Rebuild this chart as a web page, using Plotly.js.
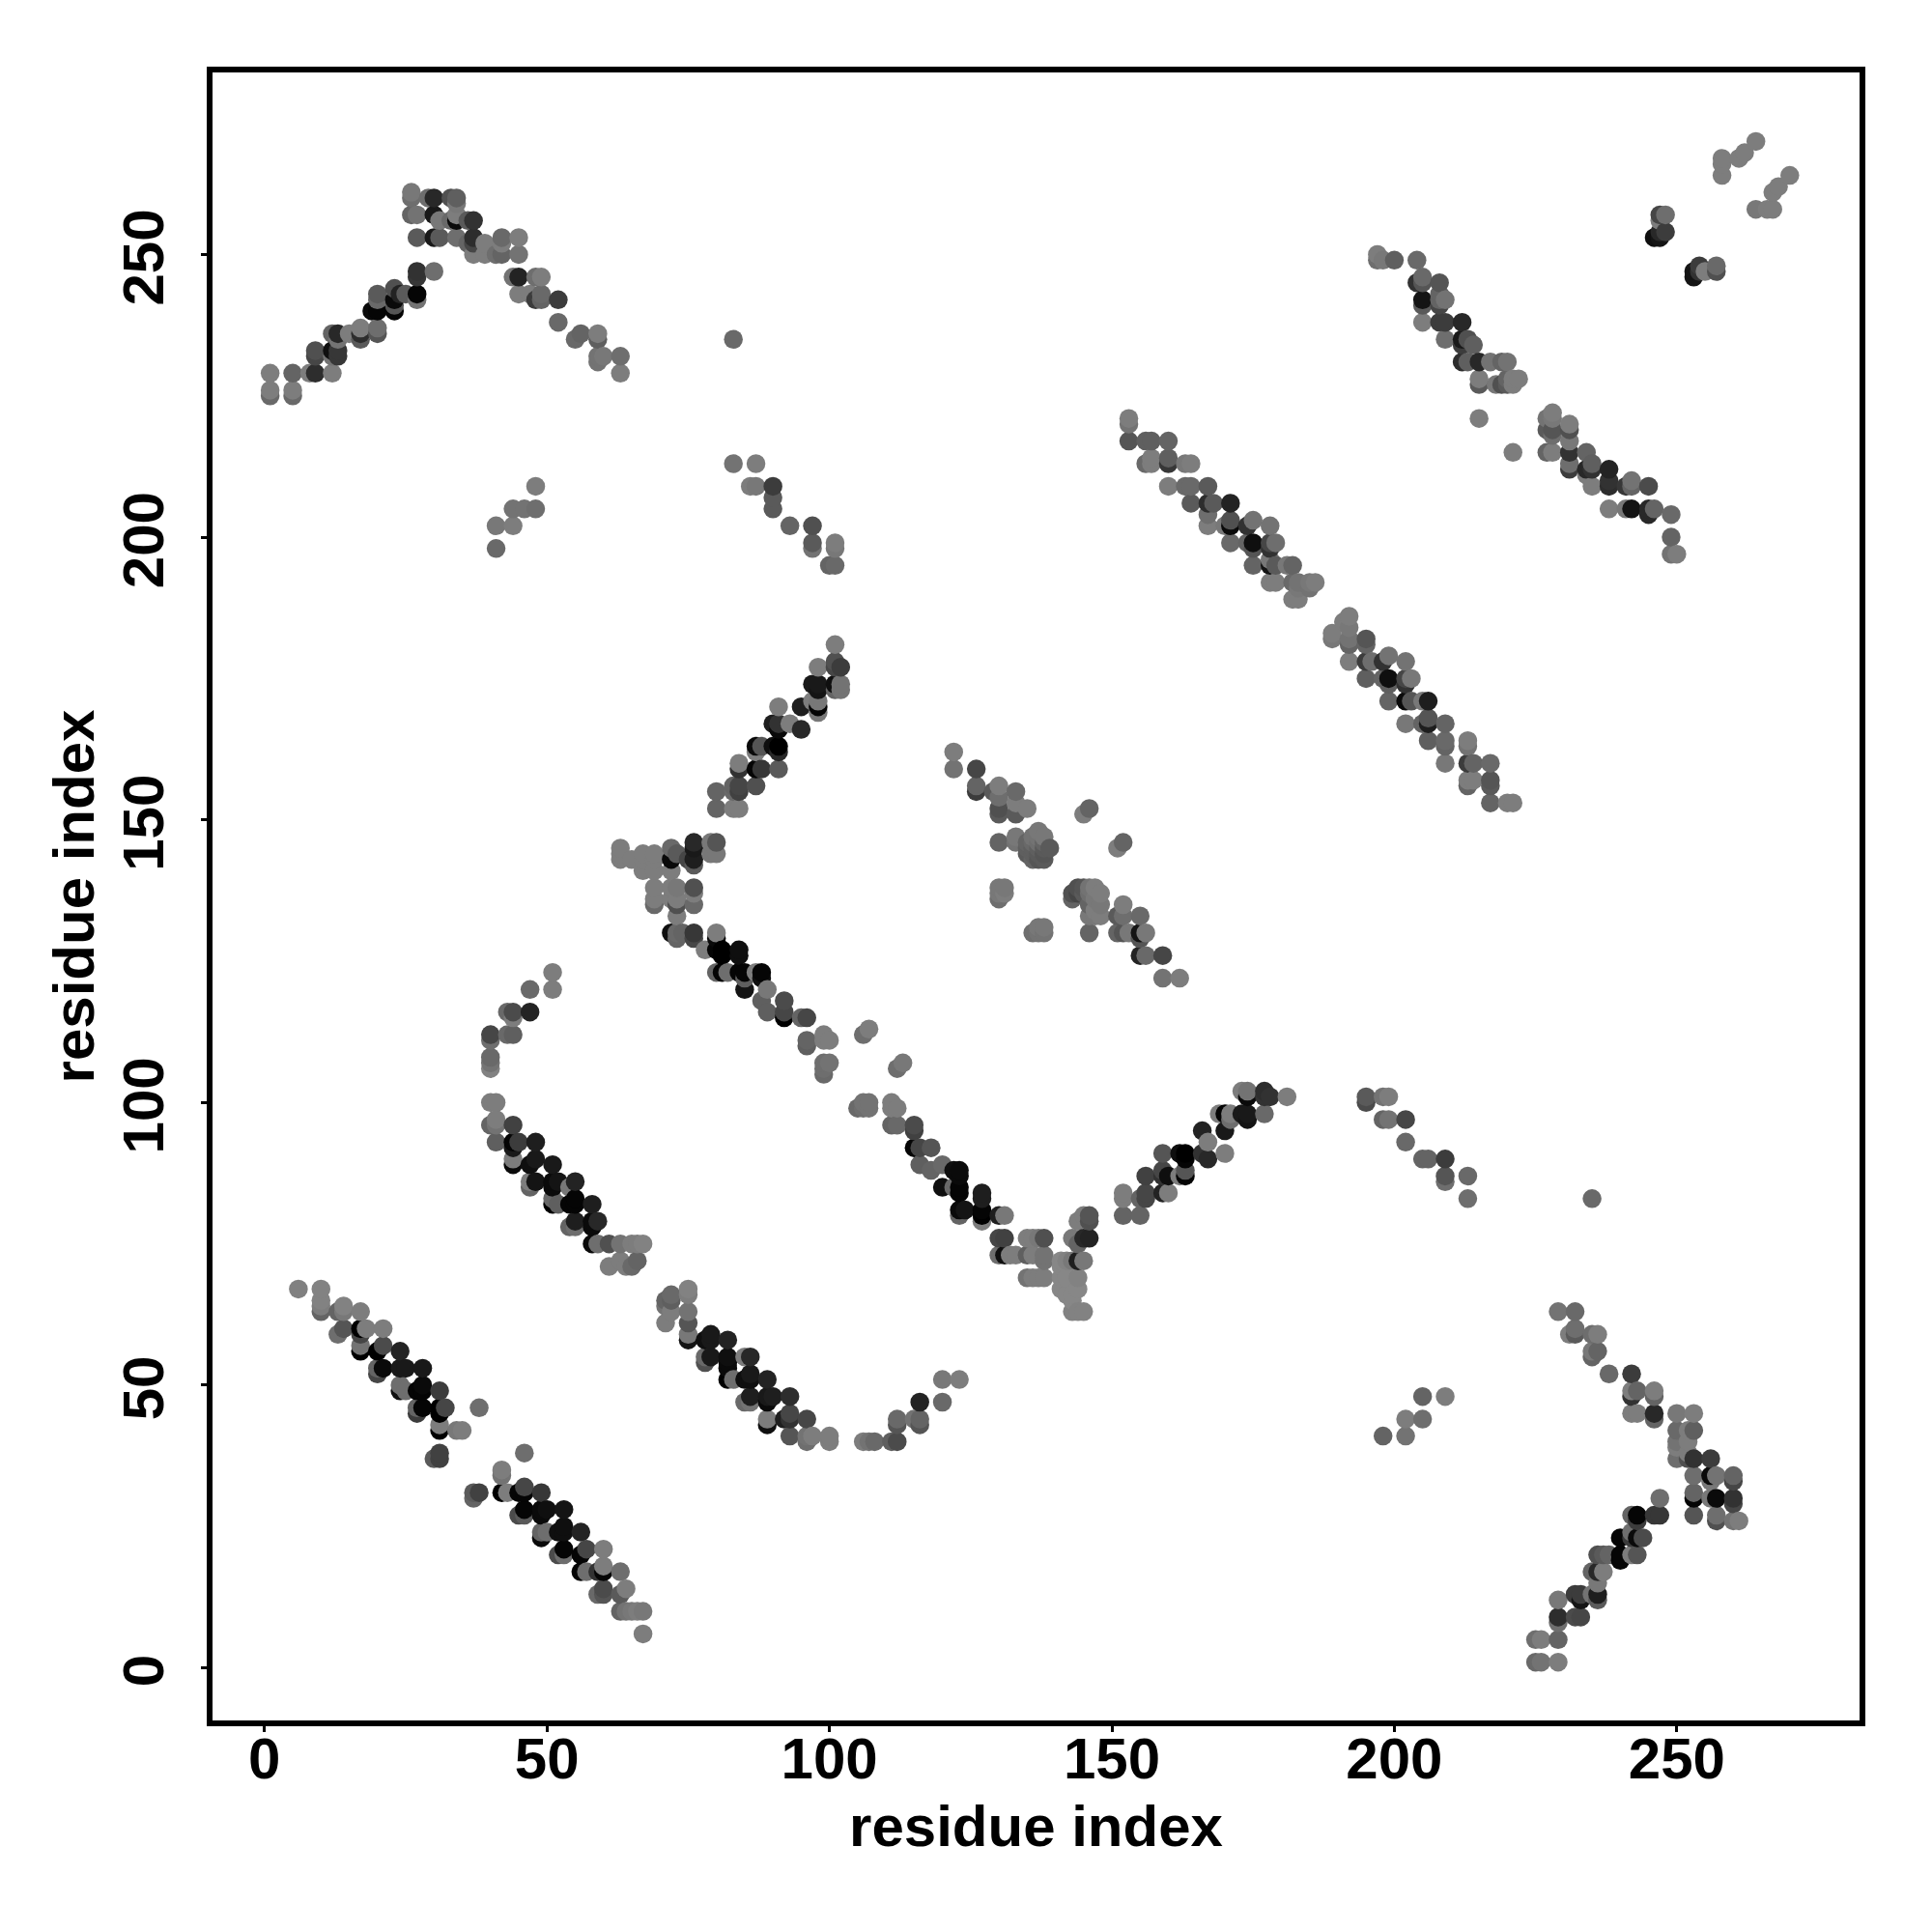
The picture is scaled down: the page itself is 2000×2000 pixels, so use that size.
<!DOCTYPE html>
<html><head><meta charset="utf-8">
<script src="https://cdn.plot.ly/plotly-3.0.1.min.js"></script>
<style>html,body{margin:0;padding:0;background:#fff}</style></head>
<body><div id="chart"></div>
<script>
// each contact: [residue i, residue j, grey level]
const bandLowerLeft = [[6,67,128],[10,67,130],[10,65,130],[10,64,125],[10,63,100],[13,63,100],[14,64,130],[14,63,120],[17,63,125],[13,59,110],[14,60,85],[17,60,0],[18,60,125],[21,60,125],[17,59,70],[17,57,115],[17,56,0],[21,57,75],[20,56,0],[24,56,35],[20,53,100],[20,52,70],[21,53,10],[24,53,25],[25,53,25],[28,53,25],[24,50,110],[24,49,15],[25,49,110],[27,49,5],[28,50,10],[28,49,5],[31,49,60],[27,46,100],[27,45,60],[28,46,5],[31,46,0],[32,46,70],[31,45,0],[38,46,110],[31,43,125],[31,42,0],[34,42,120],[35,42,125],[30,37,90],[31,38,65],[31,37,65],[46,38,110],[37,31,90],[37,30,100],[38,31,65],[42,35,125],[42,34,115],[42,31,0],[43,31,125],[46,32,70],[45,31,5],[46,31,5],[49,31,55],[46,28,5],[45,27,75],[46,27,90],[49,28,10],[50,28,15],[49,27,10],[53,28,20],[49,24,100],[49,23,10],[50,24,110],[52,24,15],[53,25,15],[53,24,15],[56,24,35],[52,20,75],[53,21,5],[53,20,110],[56,20,5],[57,21,70],[60,21,125],[56,17,5],[57,17,110],[59,17,50],[60,18,125],[60,17,5],[63,17,110],[59,13,105],[60,14,75],[60,13,85],[63,13,90],[64,14,125],[63,10,100],[64,10,115],[65,10,120],[66,10,125],[67,10,120],[67,6,125]];
const bandMidLeft = [[51,123,125],[51,120,125],[47,120,105],[47,116,35],[43,116,105],[44,116,75],[44,115,125],[40,112,70],[40,111,110],[43,112,105],[44,112,95],[40,108,105],[40,107,115],[40,106,130],[40,100,125],[41,100,125],[40,96,100],[41,97,125],[41,96,115],[44,96,65],[41,93,95],[44,93,5],[44,92,25],[45,93,60],[48,93,30],[44,90,125],[44,89,10],[47,89,15],[48,90,25],[51,89,25],[47,86,125],[47,85,100],[48,86,20],[51,86,10],[52,86,20],[51,85,10],[54,85,120],[55,86,35],[51,83,105],[51,82,0],[52,82,95],[54,82,5],[55,83,5],[55,82,5],[58,82,30],[54,78,100],[55,79,30],[55,78,110],[58,79,10],[59,79,40],[58,78,10],[58,75,10],[59,75,110],[61,75,80],[63,75,115],[65,75,125],[66,75,125],[67,75,130],[61,71,125],[63,72,125],[64,71,125],[65,71,105],[66,72,100]];
const bandLowerMid = [[71,61,125],[71,64,115],[71,65,100],[72,66,105],[72,65,95],[72,63,125],[75,67,130],[75,66,125],[75,63,115],[75,61,85],[75,59,120],[75,58,20],[78,58,15],[79,59,25],[79,58,25],[82,58,35],[78,55,105],[78,54,80],[79,55,25],[82,55,15],[82,54,10],[82,53,10],[85,55,125],[86,55,40],[82,51,0],[83,51,110],[85,51,15],[86,52,25],[86,51,15],[89,51,35],[85,47,105],[86,48,30],[86,47,115],[89,48,25],[89,47,10],[90,48,30],[93,48,45],[89,44,125],[89,43,15],[92,44,30],[93,45,70],[93,44,50],[96,44,70],[93,41,85],[96,41,115],[96,40,110],[97,41,125],[100,41,125],[100,40,125],[106,40,125],[107,40,115],[108,40,105],[111,40,95],[112,40,75],[112,44,105],[112,43,85],[115,44,115],[116,44,100],[116,43,85],[116,47,35],[120,47,105],[120,51,120],[123,51,125]];
const bandCentreDown = [[105,99,105],[106,100,115],[107,100,115],[106,99,110],[107,99,115],[111,100,125],[112,99,125],[111,99,125],[111,96,100],[112,96,105],[115,96,75],[115,95,65],[115,92,5],[116,92,70],[118,92,85],[116,89,95],[118,88,100],[120,89,105],[122,88,15],[123,88,10],[123,87,10],[120,85,15],[122,85,105],[123,85,5],[123,84,5],[127,84,30],[127,83,30],[123,81,10],[124,81,20],[123,80,100],[127,81,5],[127,80,0],[127,79,125],[130,80,30],[131,80,120],[131,76,65],[130,76,70],[130,73,110],[131,73,15],[132,73,125],[133,73,125],[135,76,125],[136,76,125],[137,76,120],[138,76,80],[135,73,95],[136,73,125],[138,73,115],[138,72,115],[135,69,115],[136,69,125],[137,69,125],[138,69,125],[141,72,135],[142,72,130],[143,72,120],[144,72,30],[145,72,120],[141,71,135],[141,69,135],[142,69,135],[144,69,130],[141,67,135],[144,67,135],[142,66,135],[143,66,135],[143,65,135],[143,63,130],[144,63,130],[145,63,130],[143,76,120],[144,75,100],[145,76,40],[146,76,35],[144,79,125],[145,80,125],[146,80,85],[146,79,80]];
const bandCentreUp = [[152,80,100],[155,80,100],[152,84,125],[152,83,125],[155,83,100],[156,84,70],[156,83,70],[156,87,65],[159,88,70],[159,87,50],[159,91,85],[160,87,15],[160,84,125],[159,84,35],[163,87,5],[163,88,85],[162,87,125],[162,91,15],[163,91,0],[163,90,5],[166,91,50],[167,90,40],[167,93,125],[166,95,35],[170,91,125],[170,95,25],[169,98,125],[170,98,5],[171,98,125],[171,97,110],[174,98,25],[174,97,20],[173,98,25],[177,98,105],[173,102,125],[174,102,115],[174,101,10],[177,102,45],[178,101,50],[177,101,50],[181,101,125]];
const bandUpperMid = [[101,181,125],[98,177,125],[101,178,80],[101,177,70],[102,177,60],[98,174,25],[97,174,25],[98,173,20],[101,174,15],[102,174,115],[101,173,100],[102,173,115],[91,170,125],[95,170,30],[97,171,125],[98,171,120],[98,170,5],[98,169,120],[90,167,30],[91,167,50],[91,166,10],[93,167,125],[95,166,40],[87,163,10],[88,163,85],[87,162,125],[90,163,15],[91,163,0],[91,162,40],[84,160,125],[84,159,50],[87,159,5],[88,159,55],[91,159,90],[80,155,100],[83,156,100],[84,156,70],[84,155,65],[83,155,105],[87,156,80],[80,152,100],[83,152,125],[84,152,125]];
const bandLeftCluster = [[63,145,125],[63,144,125],[63,143,125],[65,143,125],[67,144,125],[67,143,125],[67,141,125],[69,144,125],[69,143,125],[69,141,125],[72,145,105],[72,143,10],[73,144,90],[72,141,125],[75,143,70],[76,146,40],[76,145,25],[76,143,30],[76,142,90],[79,146,120],[80,146,85],[79,144,120],[80,144,120],[69,138,125],[69,136,125],[69,135,105],[72,138,125],[73,138,120],[72,136,125],[73,136,125],[73,135,80],[76,138,80],[76,137,125],[76,135,105],[73,133,125],[72,130,15],[73,130,105],[74,130,100],[73,129,100],[76,130,55],[76,129,70],[80,130,125],[80,129,10],[78,127,125],[80,127,5],[81,127,0],[81,126,0],[84,127,15],[84,126,15],[80,123,100],[81,123,5],[82,123,110],[84,123,5],[85,123,5],[85,122,95],[85,120,20],[87,123,125],[88,123,5],[88,122,15],[89,120,120],[88,118,95],[89,116,95],[92,118,75],[92,116,70],[92,115,0],[95,115,100],[96,115,70],[96,111,100],[96,110,95],[99,112,125],[100,111,125],[99,111,125],[99,107,110],[100,107,115],[99,106,110],[99,105,105],[106,112,110],[107,113,125],[112,106,110],[113,107,120]];
const bandRightCentre = [[122,162,125],[122,159,115],[126,159,70],[126,156,100],[126,155,60],[129,155,90],[130,156,125],[130,154,110],[133,155,105],[133,153,125],[130,152,80],[130,151,90],[133,151,90],[135,152,125],[130,146,100],[133,147,120],[133,146,115],[135,146,100],[135,145,95],[135,144,90],[136,147,115],[136,146,105],[136,145,95],[136,144,95],[136,143,100],[137,148,120],[137,147,115],[137,146,110],[137,145,95],[137,144,90],[137,143,85],[138,147,120],[138,146,100],[138,145,90],[138,144,85],[138,143,90],[139,145,90],[146,152,100],[145,151,125],[152,146,100],[151,145,125],[130,137,120],[130,136,110],[130,138,120],[131,138,120],[131,137,125],[136,130,110],[137,131,120],[138,131,120],[138,130,115],[137,130,115],[143,137,80],[143,136,100],[144,138,80],[144,137,70],[145,138,85],[145,137,90],[146,138,115],[146,137,110],[146,135,100],[147,138,125],[147,136,120],[147,134,125],[148,137,125],[148,135,120],[148,133,125],[146,133,120],[147,133,120],[146,130,100],[152,135,125],[151,133,90],[152,133,110],[155,133,105],[151,130,100],[152,130,85],[153,130,120],[155,129,85],[155,130,20],[156,130,120],[155,126,35],[156,126,105],[159,126,70],[159,122,115],[162,122,125]];
const bandUpperLeft = [[1,229,125],[1,226,125],[1,225,105],[5,229,100],[5,226,125],[5,225,105],[8,229,125],[9,229,45],[12,229,125],[9,233,80],[9,232,70],[12,233,15],[13,233,55],[13,232,55],[12,232,115],[12,236,100],[13,236,40],[13,235,115],[15,236,125],[17,235,90],[17,236,45],[17,237,125],[20,237,110],[20,236,85],[20,243,90],[20,242,105],[19,240,10],[20,240,5],[23,240,5],[23,244,80],[23,242,10],[23,241,85],[24,243,35],[25,243,90],[27,243,5],[27,242,115],[27,247,50],[27,246,55],[30,247,110],[26,261,120],[26,260,110],[29,260,110],[30,260,40],[26,257,100],[27,257,115],[27,253,90],[30,257,25],[30,253,25],[31,253,90],[31,256,120],[33,260,80],[34,260,95],[34,259,120],[33,256,105],[34,257,125],[34,256,10],[36,256,90],[37,256,50],[34,253,110],[36,252,100],[37,253,45],[37,252,70],[37,250,125],[39,252,125],[39,250,125],[41,250,110],[42,250,100],[42,253,105],[42,252,125],[45,253,125],[45,250,115],[44,246,115],[45,246,35],[48,246,110],[49,246,125],[45,243,125],[48,242,60],[47,243,125],[49,243,105],[49,242,100],[52,242,60],[52,238,105],[55,235,105],[56,236,100],[59,236,125],[59,235,95],[59,232,115],[60,232,120],[59,231,115],[63,232,110],[63,229,125]];
const bandIsolated = [[41,202,120],[41,198,105],[44,202,125],[44,205,115],[46,205,115],[48,205,110],[48,209,125],[83,235,105],[83,213,115],[86,209,125],[87,209,120],[87,213,125],[90,209,60],[90,207,90],[90,205,90],[93,202,100],[97,202,80],[97,199,90],[97,198,115],[101,199,125],[101,198,120],[100,195,100],[101,195,105],[198,41,100],[202,41,115],[202,44,125],[205,44,110],[205,48,100],[209,48,125],[195,101,90],[195,100,75],[198,101,115],[199,101,125],[198,97,100],[199,97,115],[202,97,70],[202,93,105],[205,90,100],[206,90,100],[209,90,60],[209,87,85],[209,86,110],[213,87,105],[213,83,110],[235,83,105]];
const bandDiagonalA = [[153,221,125],[153,220,115],[153,217,85],[156,217,95],[157,217,95],[160,217,100],[156,213,105],[157,214,125],[157,213,125],[160,214,95],[160,213,55],[163,213,120],[164,213,125],[160,209,125],[163,209,105],[164,209,105],[167,209,90],[164,206,90],[167,206,45],[168,206,90],[171,206,35],[167,204,110],[167,202,125],[170,202,120],[171,203,80],[171,202,10],[174,202,50],[175,203,115],[171,199,105],[174,199,100],[175,199,15],[175,198,85],[178,202,115],[178,199,70],[179,199,110],[178,198,50],[175,195,100],[178,195,20],[179,195,90],[178,196,120],[181,195,120],[182,195,100],[178,192,125],[179,192,125],[182,192,105],[183,192,115],[185,192,120],[186,192,125],[183,191,120],[185,191,115],[182,189,125],[183,189,125]];
const bandDiagonalB = [[192,186,125],[191,185,125],[189,183,125],[189,182,120],[192,184,120],[192,182,115],[192,181,100],[195,182,85],[195,181,100],[192,178,125],[195,178,60],[196,178,110],[198,178,50],[199,179,115],[202,178,115],[195,175,95],[198,175,100],[199,175,15],[199,174,95],[202,175,70],[203,175,120],[202,174,50],[199,171,100],[202,171,10],[203,171,85],[205,171,120],[206,171,30],[202,167,120],[205,167,100],[206,168,85],[206,167,30],[209,167,100],[206,164,95],[209,164,105],[209,163,100],[209,160,120],[213,164,125],[213,163,115],[213,160,60],[214,160,100],[217,160,105],[213,157,125],[214,157,125],[213,156,100],[217,157,85],[217,156,90],[217,153,100],[220,153,125],[221,153,125]];
const bandUpperRight = [[197,250,125],[197,249,110],[198,249,120],[200,249,95],[204,249,105],[204,245,50],[205,246,105],[205,245,85],[208,245,85],[205,242,20],[205,241,90],[208,243,100],[208,242,100],[209,242,115],[208,241,70],[205,238,125],[208,238,60],[209,238,60],[212,238,40],[209,235,110],[212,235,25],[212,234,60],[213,235,80],[214,234,95],[212,231,45],[213,231,95],[215,231,40],[217,231,115],[219,231,100],[220,231,115],[215,228,125],[215,227,90],[218,227,120],[219,227,80],[220,228,100],[220,227,90],[221,228,125],[222,228,125],[221,227,125],[215,221,125],[221,215,125],[228,222,125],[227,221,115],[228,221,120],[227,219,90],[228,219,85],[228,218,110],[231,220,125],[231,219,80],[227,215,100],[228,215,125],[231,217,120],[231,215,50],[231,213,110],[231,212,60],[234,215,100],[235,213,95],[234,212,40],[235,212,50],[234,211,125],[238,212,35],[235,209,125],[238,210,50],[238,209,45],[241,209,55],[242,210,115],[242,209,100],[245,209,75],[238,205,125],[241,205,120],[242,205,20],[245,205,40],[246,205,100],[245,204,40],[249,204,105],[249,200,100],[249,197,115],[250,197,125],[247,257,70],[248,257,110],[247,256,125],[247,254,40],[248,254,60],[246,253,15],[247,253,20],[253,247,20],[253,246,20],[254,248,60],[254,247,50],[255,247,125],[257,248,105],[257,247,80],[258,267,125],[258,266,125],[258,264,125],[261,267,125],[262,268,125],[264,270,125],[264,258,120],[266,258,125],[267,258,125],[267,261,125],[268,262,125],[270,264,125]];
const bandLowerRight = [[229,63,115],[232,63,105],[231,59,125],[232,60,110],[232,59,90],[235,59,110],[236,59,125],[235,56,120],[236,56,100],[235,55,100],[238,52,105],[242,52,60],[242,49,125],[243,49,100],[242,48,50],[242,45,125],[243,45,125],[246,49,125],[246,48,100],[246,45,40],[246,44,100],[250,45,120],[253,45,125],[250,42,105],[253,42,95],[252,42,125],[250,40,115],[252,40,125],[250,39,125],[250,37,110],[252,38,125],[252,37,80],[253,37,50],[256,37,60],[253,34,110],[256,34,10],[257,34,115],[260,34,100],[256,33,120],[260,33,70],[253,31,100],[253,30,5],[257,30,10],[256,30,120],[260,30,50],[260,29,70],[253,27,85],[257,27,110],[257,26,80],[260,26,115],[261,26,125],[247,30,110],[246,27,55],[247,27,55],[243,27,5],[242,27,100],[243,26,60],[242,24,110],[240,23,5],[242,23,60],[243,23,10],[244,23,75],[240,20,5],[240,19,5],[242,20,125],[243,20,85],[236,20,80],[237,20,90],[238,20,100],[235,17,100],[236,17,40],[237,17,125],[236,15,120],[232,13,60],[233,13,60],[233,12,20],[235,13,115],[236,13,30],[236,12,90],[229,12,120],[229,9,45],[229,8,110],[232,9,75],[233,9,70],[225,5,110],[226,5,125],[229,5,100],[225,1,105],[226,1,115],[229,1,125]];
const tickValues = [0,50,100,150,200,250];
const axisTitle = 'residue index';

const contacts = [].concat(bandLowerLeft,bandMidLeft,bandLowerMid,bandCentreDown,bandCentreUp,bandUpperMid,bandLeftCluster,bandRightCentre,bandUpperLeft,bandIsolated,bandDiagonalA,bandDiagonalB,bandUpperRight,bandLowerRight)
  .sort((a,b)=>a[0]-b[0]||a[1]-b[1]);

const font = {family:'"Liberation Sans", Arimo, Helvetica, Arial, sans-serif', size:60, color:'#000', weight:700};
const axisBase = {
  tickmode:'array', tickvals:tickValues, ticktext:tickValues.map(String),
  showgrid:false, zeroline:false, showline:true, mirror:true, linecolor:'#000', linewidth:6,
  ticks:'outside', ticklen:6, tickwidth:3, tickcolor:'#000', tickfont:font,
  automargin:false
};
Plotly.newPlot('chart',[{
  type:'scatter', mode:'markers', hoverinfo:'skip',
  x:contacts.map(c=>c[0]), y:contacts.map(c=>c[1]),
  marker:{size:19.5, color:contacts.map(c=>`rgb(${c[2]},${c[2]},${c[2]})`), line:{width:0}}
}],{
  width:2000, height:2000, autosize:false, showlegend:false,
  paper_bgcolor:'#fff', plot_bgcolor:'#fff',
  margin:{l:219.5, r:74.7, t:75, b:219.3, pad:0},
  xaxis:Object.assign({},axisBase,{range:[-9.2,282.35], tickangle:0, ticklabelstandoff:-24,
    title:{text:axisTitle, font:font, standoff:18}}),
  yaxis:Object.assign({},axisBase,{range:[-9.3,282.2], tickangle:-90, ticklabelstandoff:15, ticklabelshift:12,
    title:{text:axisTitle, font:font, standoff:0}})
},{displayModeBar:false, staticPlot:true});
</script></body></html>
